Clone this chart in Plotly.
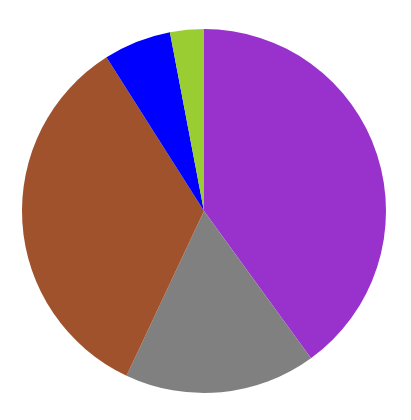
import plotly.graph_objects as go

# Datos de las porciones (orden en sentido horario desde las 12)
labels = ["A", "B", "C", "D", "E"]
values = [40, 17, 34, 6, 3]
colors = ["#9932CC", "#808080", "#A0522D", "#0000FF", "#9ACD32"]

fig = go.Figure(go.Pie(
    labels=labels,
    values=values,
    marker=dict(colors=colors, line=dict(width=0)),
    sort=False,
    direction="clockwise",
    rotation=0,
    textinfo="none",
    hoverinfo="label+percent",
))

fig.update_layout(
    width=411,
    height=420,
    showlegend=False,
    margin=dict(l=13, r=32, t=21, b=35),
    paper_bgcolor="white",
    plot_bgcolor="white",
)
fig.write_html("out.html")
